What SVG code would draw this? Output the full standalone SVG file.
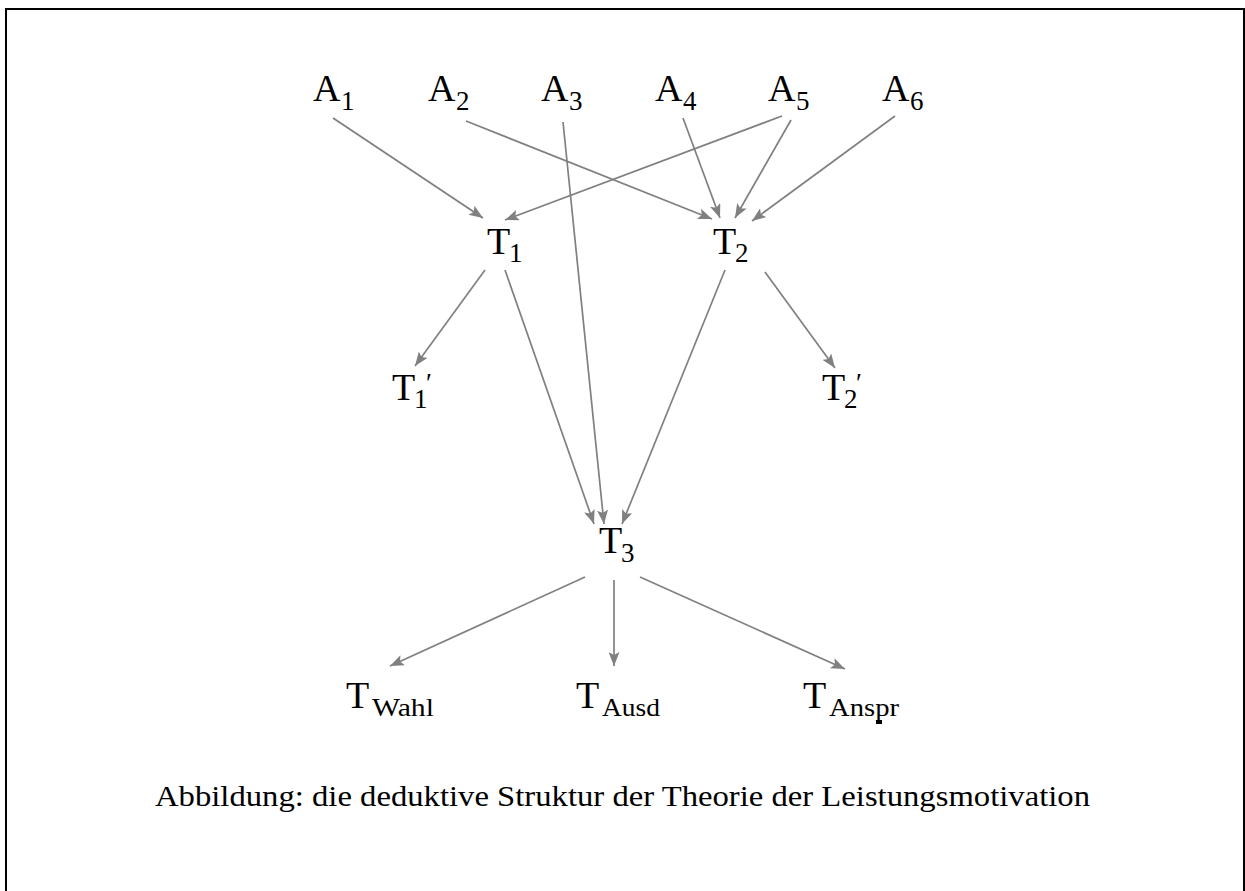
<svg xmlns="http://www.w3.org/2000/svg" width="1245" height="891" viewBox="0 0 1245 891">
<style>
.m{font-family:"Liberation Serif","DejaVu Serif",serif;font-size:38px;fill:#000}
.s{font-family:"Liberation Serif","DejaVu Serif",serif;font-size:27px;fill:#000}
.w{font-family:"Liberation Serif","DejaVu Serif",serif;font-size:26px;fill:#000}
.c{font-family:"Liberation Serif","DejaVu Serif",serif;font-size:30px;fill:#000}
.e{stroke:#808080;stroke-width:1.7;fill:none;marker-end:url(#ah)}
</style>
<defs>
<marker id="ah" viewBox="0 0 14 11" refX="14" refY="5.5" markerWidth="14" markerHeight="11" markerUnits="userSpaceOnUse" orient="auto">
<path d="M0,0 L14,5.5 L0,11 L3,5.5 Z" fill="#808080"/>
</marker>
</defs>
<rect x="6" y="9" width="1238" height="900" fill="#fff" stroke="#000" stroke-width="2"/>
<g id="connectors">
<line class="e" x1="333" y1="118" x2="483" y2="218"/>
<line class="e" x1="466" y1="121" x2="712" y2="219"/>
<line class="e" x1="563" y1="122" x2="604" y2="524"/>
<line class="e" x1="683" y1="118" x2="720" y2="218"/>
<line class="e" x1="782" y1="116" x2="505" y2="220"/>
<line class="e" x1="791" y1="120" x2="735" y2="218"/>
<line class="e" x1="895" y1="116" x2="752" y2="221"/>
<line class="e" x1="485" y1="270" x2="415" y2="366"/>
<line class="e" x1="505" y1="270" x2="594" y2="524"/>
<line class="e" x1="725" y1="270" x2="622" y2="524"/>
<line class="e" x1="765" y1="272" x2="835" y2="368"/>
<line class="e" x1="585" y1="577" x2="390" y2="666"/>
<line class="e" x1="614" y1="580" x2="614" y2="666"/>
<line class="e" x1="640" y1="577" x2="845" y2="669"/>
</g>
<g id="A1"><text class="m" x="313" y="101">A</text><text class="s" x="341" y="110">1</text></g>
<g id="A2"><text class="m" x="428" y="101">A</text><text class="s" x="456" y="110">2</text></g>
<g id="A3"><text class="m" x="541" y="101">A</text><text class="s" x="569" y="110">3</text></g>
<g id="A4"><text class="m" x="655" y="101">A</text><text class="s" x="683" y="110">4</text></g>
<g id="A5"><text class="m" x="768" y="101">A</text><text class="s" x="796" y="110">5</text></g>
<g id="A6"><text class="m" x="882" y="101">A</text><text class="s" x="910" y="110">6</text></g>
<g id="T1"><text class="m" x="487" y="254">T</text><text class="s" x="509" y="262">1</text></g>
<g id="T2"><text class="m" x="713" y="254">T</text><text class="s" x="735" y="262">2</text></g>
<g id="T1p"><text class="m" x="392" y="400">T</text><text class="s" x="414" y="408">1</text><text class="s" x="426" y="392">′</text></g>
<g id="T2p"><text class="m" x="822" y="400">T</text><text class="s" x="844" y="408">2</text><text class="s" x="856" y="392">′</text></g>
<g id="T3"><text class="m" x="599" y="553">T</text><text class="s" x="621" y="562">3</text></g>
<g id="TWahl"><text class="m" x="346" y="708">T</text><text class="w" x="372" y="716" textLength="62" lengthAdjust="spacingAndGlyphs">Wahl</text></g>
<g id="TAusd"><text class="m" x="576" y="708">T</text><text class="w" x="602" y="716" textLength="58" lengthAdjust="spacingAndGlyphs">Ausd</text></g>
<g id="TAnspr"><text class="m" x="803" y="708">T</text><text class="w" x="829" y="716" textLength="70" lengthAdjust="spacingAndGlyphs">Anspr</text><rect x="876" y="720" width="6" height="4" fill="#000"/></g>
<text class="c" x="155" y="806" textLength="935" lengthAdjust="spacingAndGlyphs">Abbildung: die deduktive Struktur der Theorie der Leistungsmotivation</text>
</svg>
